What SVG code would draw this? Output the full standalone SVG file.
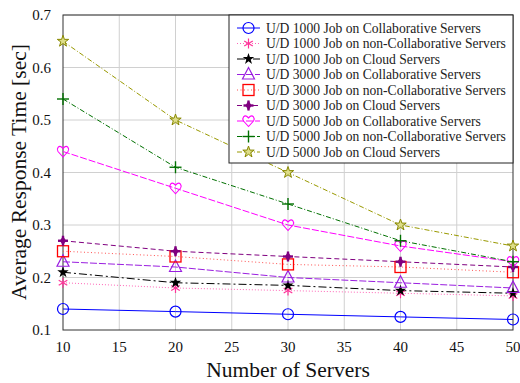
<svg xmlns="http://www.w3.org/2000/svg" xmlns:xlink="http://www.w3.org/1999/xlink" width="520" height="383" viewBox="0 0 520 383">
<style>
.grid{stroke:#d0d0d0;stroke-width:1;fill:none}
.tick{font-family:"Liberation Serif",serif;font-size:15px;fill:#111}
.title{font-family:"Liberation Serif",serif;font-size:21.5px;fill:#111}
.leg{font-family:"Liberation Serif",serif;font-size:13.6px;fill:#222}
.s{fill:none;stroke-width:1}
.s1{stroke:#0000ff}
.s2{stroke:#ff66b8;stroke-dasharray:1 2}
.s3{stroke:#000;stroke-dasharray:8 3 2 3}
.s4{stroke:#9a1ee0;stroke-dasharray:7 2}
.s5{stroke:#ff5050;stroke-dasharray:1 2.5}
.s6{stroke:#800080;stroke-dasharray:5 3}
.s7{stroke:#ff00ff;stroke-dasharray:7 2}
.s8{stroke:#007000;stroke-dasharray:5 2 1 2}
.s9{stroke:#999900;stroke-dasharray:5 2 1 2}
</style>
<defs>
<g id="m1"><circle r="5.5" fill="none" stroke="#0000ff" stroke-width="1.2"/></g>
<g id="m2" stroke="#ff3399" stroke-width="1.2"><line x1="0" y1="-5" x2="0" y2="5"/><line x1="-4.3" y1="-2.5" x2="4.3" y2="2.5"/><line x1="-4.3" y1="2.5" x2="4.3" y2="-2.5"/></g>
<g id="m3"><polygon points="0,-6 1.4,-1.9 5.7,-1.9 2.2,0.7 3.5,4.9 0,2.3 -3.5,4.9 -2.2,0.7 -5.7,-1.9 -1.4,-1.9" fill="#000"/></g>
<g id="m4"><polygon points="0,-7 6,4.5 -6,4.5" fill="none" stroke="#9a1ee0" stroke-width="1.2"/></g>
<g id="m5"><rect x="-5.5" y="-5.5" width="11" height="11" fill="none" stroke="#ff0000" stroke-width="1.3"/></g>
<g id="m6" fill="#800080"><polygon points="0,-5 3,0 0,5 -3,0"/><rect x="-5" y="-1.2" width="10" height="2.4"/><rect x="-1.2" y="-5" width="2.4" height="10"/></g>
<g id="m7"><path d="M0,5.5 L-5,0 C-7,-3 -4,-6.5 -1.5,-4.5 L0,-3 L1.5,-4.5 C4,-6.5 7,-3 5,0 Z" fill="none" stroke="#ff00ff" stroke-width="1.1"/></g>
<g id="m8" stroke="#007000" stroke-width="1.4"><line x1="-6" y1="0" x2="6" y2="0"/><line x1="0" y1="-6" x2="0" y2="6"/></g>
<g id="m9"><polygon points="0,-6 1.4,-1.9 5.7,-1.9 2.2,0.7 3.5,4.9 0,2.3 -3.5,4.9 -2.2,0.7 -5.7,-1.9 -1.4,-1.9" fill="#dddd88" stroke="#888800" stroke-width="1"/></g>
</defs>
<rect width="520" height="383" fill="#fff"/>
<g id="grid" class="grid">
<line x1="63" y1="15" x2="513" y2="15"/><line x1="63" y1="67.5" x2="513" y2="67.5"/><line x1="63" y1="120" x2="513" y2="120"/><line x1="63" y1="172.5" x2="513" y2="172.5"/><line x1="63" y1="225" x2="513" y2="225"/><line x1="63" y1="277.5" x2="513" y2="277.5"/>
<line x1="119.25" y1="15" x2="119.25" y2="330"/><line x1="175.5" y1="15" x2="175.5" y2="330"/><line x1="231.75" y1="15" x2="231.75" y2="330"/><line x1="288" y1="15" x2="288" y2="330"/><line x1="344.25" y1="15" x2="344.25" y2="330"/><line x1="400.5" y1="15" x2="400.5" y2="330"/><line x1="456.75" y1="15" x2="456.75" y2="330"/>
</g>
<g id="axes">
<rect x="63" y="15" width="450" height="315" fill="none" stroke="#333" stroke-width="1"/>
<g class="tick" text-anchor="end">
<text x="51" y="20">0.7</text><text x="51" y="72.5">0.6</text><text x="51" y="125">0.5</text><text x="51" y="177.5">0.4</text><text x="51" y="230">0.3</text><text x="51" y="282.5">0.2</text><text x="51" y="335">0.1</text>
</g>
<g class="tick" text-anchor="middle">
<text x="63" y="352">10</text><text x="119.25" y="352">15</text><text x="175.5" y="352">20</text><text x="231.75" y="352">25</text><text x="288" y="352">30</text><text x="344.25" y="352">35</text><text x="400.5" y="352">40</text><text x="456.75" y="352">45</text><text x="513" y="352">50</text>
</g>
<text class="title" x="288" y="377" text-anchor="middle">Number of Servers</text>
<text class="title" transform="translate(26,172) rotate(-90)" text-anchor="middle">Average Response Time [sec]</text>
</g>
<g id="connectors">
<polyline class="s s1" points="63,309 175.5,311.6 288,314.25 400.5,316.9 513,319.5"/>
<polyline class="s s2" points="63,282.75 175.5,288 288,290.6 400.5,293.25 513,295.9"/>
<polyline class="s s3" points="63,272.25 175.5,282.75 288,285.4 400.5,290.6 513,293.25"/>
<polyline class="s s4" points="63,261.75 175.5,267 288,277.5 400.5,282.75 513,288"/>
<polyline class="s s5" points="63,251.25 175.5,256.5 288,264.4 400.5,267 513,272.25"/>
<polyline class="s s6" points="63,240.75 175.5,251.25 288,256.5 400.5,261.75 513,267"/>
<polyline class="s s7" points="63,151.5 175.5,188.25 288,225 400.5,246 513,261.75"/>
<polyline class="s s8" points="63,99 175.5,167.25 288,204 400.5,240.75 513,261.75"/>
<polyline class="s s9" points="63,41.25 175.5,120 288,172.5 400.5,225 513,246"/>
</g>
<g id="markers">
<use xlink:href="#m1" x="63" y="309"/><use xlink:href="#m1" x="175.5" y="311.6"/><use xlink:href="#m1" x="288" y="314.25"/><use xlink:href="#m1" x="400.5" y="316.9"/><use xlink:href="#m1" x="513" y="319.5"/>
<use xlink:href="#m2" x="63" y="282.75"/><use xlink:href="#m2" x="175.5" y="288"/><use xlink:href="#m2" x="288" y="290.6"/><use xlink:href="#m2" x="400.5" y="293.25"/><use xlink:href="#m2" x="513" y="295.9"/>
<use xlink:href="#m3" x="63" y="272.25"/><use xlink:href="#m3" x="175.5" y="282.75"/><use xlink:href="#m3" x="288" y="285.4"/><use xlink:href="#m3" x="400.5" y="290.6"/><use xlink:href="#m3" x="513" y="293.25"/>
<use xlink:href="#m4" x="63" y="261.75"/><use xlink:href="#m4" x="175.5" y="267"/><use xlink:href="#m4" x="288" y="277.5"/><use xlink:href="#m4" x="400.5" y="282.75"/><use xlink:href="#m4" x="513" y="288"/>
<use xlink:href="#m5" x="63" y="251.25"/><use xlink:href="#m5" x="175.5" y="256.5"/><use xlink:href="#m5" x="288" y="264.4"/><use xlink:href="#m5" x="400.5" y="267"/><use xlink:href="#m5" x="513" y="272.25"/>
<use xlink:href="#m6" x="63" y="240.75"/><use xlink:href="#m6" x="175.5" y="251.25"/><use xlink:href="#m6" x="288" y="256.5"/><use xlink:href="#m6" x="400.5" y="261.75"/><use xlink:href="#m6" x="513" y="267"/>
<use xlink:href="#m7" x="63" y="151.5"/><use xlink:href="#m7" x="175.5" y="188.25"/><use xlink:href="#m7" x="288" y="225"/><use xlink:href="#m7" x="400.5" y="246"/><use xlink:href="#m7" x="513" y="261.75"/>
<use xlink:href="#m8" x="63" y="99"/><use xlink:href="#m8" x="175.5" y="167.25"/><use xlink:href="#m8" x="288" y="204"/><use xlink:href="#m8" x="400.5" y="240.75"/><use xlink:href="#m8" x="513" y="261.75"/>
<use xlink:href="#m9" x="63" y="41.25"/><use xlink:href="#m9" x="175.5" y="120"/><use xlink:href="#m9" x="288" y="172.5"/><use xlink:href="#m9" x="400.5" y="225"/><use xlink:href="#m9" x="513" y="246"/>
</g>
<g id="legend">
<rect x="229" y="15" width="284" height="148" fill="#fff" stroke="#222" stroke-width="1"/>
<line class="s s1" x1="237" y1="28" x2="260" y2="28"/><use xlink:href="#m1" x="248.5" y="28"/>
<line class="s s2" x1="237" y1="43.5" x2="260" y2="43.5"/><use xlink:href="#m2" x="248.5" y="43.5"/>
<line class="s s3" x1="237" y1="59" x2="260" y2="59"/><use xlink:href="#m3" x="248.5" y="59"/>
<line class="s s4" x1="237" y1="74.5" x2="260" y2="74.5"/><use xlink:href="#m4" x="248.5" y="74.5"/>
<line class="s s5" x1="237" y1="90" x2="260" y2="90"/><use xlink:href="#m5" x="248.5" y="90"/>
<line class="s s6" x1="237" y1="105.5" x2="260" y2="105.5"/><use xlink:href="#m6" x="248.5" y="105.5"/>
<line class="s s7" x1="237" y1="121" x2="260" y2="121"/><use xlink:href="#m7" x="248.5" y="121"/>
<line class="s s8" x1="237" y1="136.5" x2="260" y2="136.5"/><use xlink:href="#m8" x="248.5" y="136.5"/>
<line class="s s9" x1="237" y1="152" x2="260" y2="152"/><use xlink:href="#m9" x="248.5" y="152"/>
<g class="leg">
<text x="266" y="32.5">U/D 1000 Job on Collaborative Servers</text>
<text x="266" y="48">U/D 1000 Job on non-Collaborative Servers</text>
<text x="266" y="63.5">U/D 1000 Job on Cloud Servers</text>
<text x="266" y="79">U/D 3000 Job on Collaborative Servers</text>
<text x="266" y="94.5">U/D 3000 Job on non-Collaborative Servers</text>
<text x="266" y="110">U/D 3000 Job on Cloud Servers</text>
<text x="266" y="125.5">U/D 5000 Job on Collaborative Servers</text>
<text x="266" y="141">U/D 5000 Job on non-Collaborative Servers</text>
<text x="266" y="156.5">U/D 5000 Job on Cloud Servers</text>
</g>
</g>
</svg>
